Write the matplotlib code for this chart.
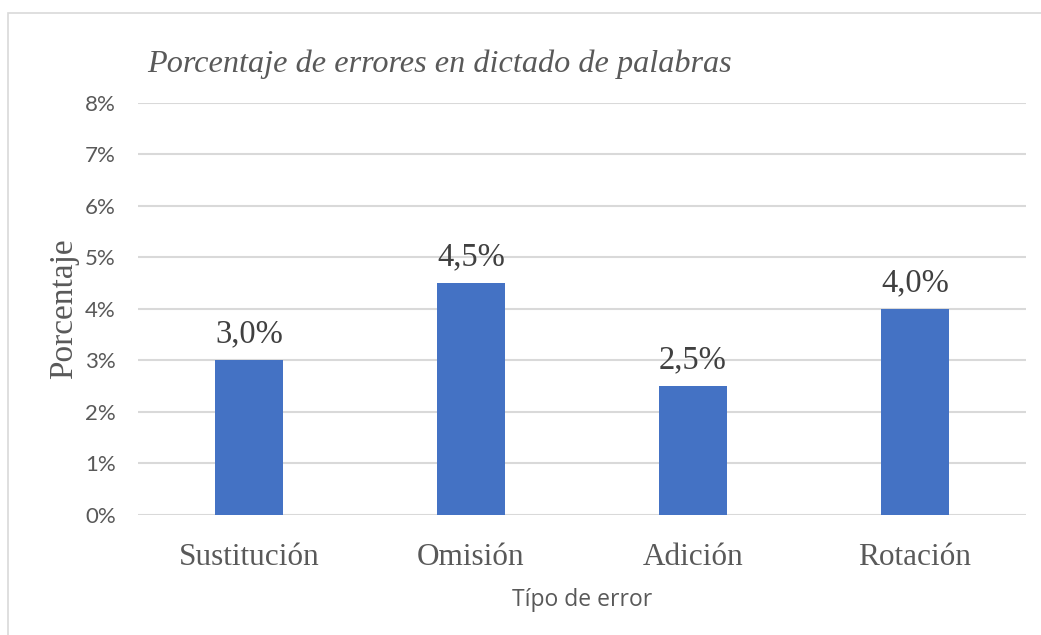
import matplotlib.pyplot as plt
from matplotlib.patches import Rectangle

# Datos
categorias = ["Sustitución", "Omisión", "Adición", "Rotación"]
porcentajes = [3.0, 4.5, 2.5, 4.0]
etiquetas = ["3,0%", "4,5%", "2,5%", "4,0%"]
ticks_y = [0, 1, 2, 3, 4, 5, 6, 7, 8]

gris = "#595959"
serif = "Liberation Serif"

fig = plt.figure(figsize=(10.41, 6.35), dpi=100)
ax = fig.add_axes([0.1326, 0.189, 0.8530, 0.6488])

# marco exterior del gráfico
fig.patches.append(Rectangle((8 / 1041, -0.01), 1.1, 1 - 13 / 635 + 0.01,
                             transform=fig.transFigure, fill=False,
                             edgecolor="#d9d9d9", linewidth=1.2))

x = range(len(categorias))
ax.bar(x, porcentajes, width=0.31, color="#4472C4", zorder=3)

for xi, v, t in zip(x, porcentajes, etiquetas):
    ax.text(xi, v + 0.35, t, ha="center", va="baseline", fontsize=23.5,
            family=serif, color="#404040", zorder=4)

ax.set_xlim(-0.5, len(categorias) - 0.5)
ax.set_ylim(0, 8)
ax.set_yticks(ticks_y)
ax.set_yticklabels([f"{t}%" for t in ticks_y], family="Lato",
                   fontsize=16, color=gris)
ax.set_xticks(list(x))
ax.set_xticklabels(categorias, family=serif, fontsize=22.5, color=gris)
ax.tick_params(axis="both", length=0)
ax.tick_params(axis="y", pad=16)
ax.tick_params(axis="x", pad=20)

ax.grid(axis="y", color="#d9d9d9", linewidth=1.5, zorder=0)
for s in ax.spines.values():
    s.set_visible(False)

ax.set_ylabel("Porcentaje", family=serif, fontsize=24, color=gris)
ax.yaxis.set_label_coords(-0.0664, 0.5)
ax.set_xlabel("Típo de error", family="Open Sans", fontsize=16.5, color=gris,
              labelpad=12)

fig.text(147 / 1041, 1 - 64 / 635, "Porcentaje de errores en dictado de palabras",
         family=serif, style="italic", fontsize=23.2, color=gris,
         ha="left", va="center")

fig.savefig("out.png", dpi=100)
